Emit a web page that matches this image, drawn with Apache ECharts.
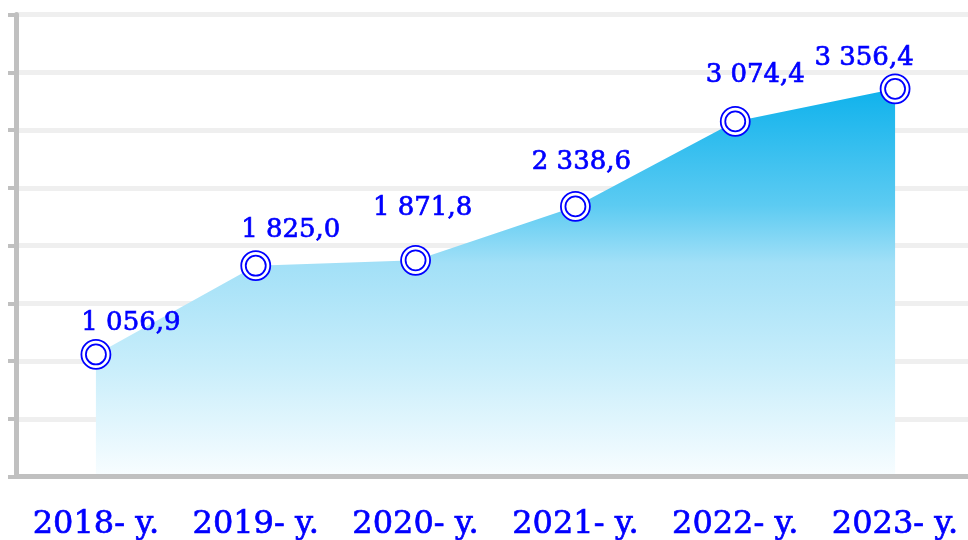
<!DOCTYPE html>
<html>
<head>
<meta charset="utf-8">
<script src="https://cdn.jsdelivr.net/npm/echarts@6/dist/echarts.min.js"></script>
<style>
html,body{margin:0;padding:0;background:#fff;overflow:hidden;width:968px;height:540px;}
#c{width:975px;height:540px;}
</style>
</head>
<body>
<div id="c"></div>
<script>
var categories = ['2018- y.', '2019- y.', '2020- y.', '2021- y.', '2022- y.', '2023- y.'];
var values = [1056.9, 1825.0, 1871.8, 2338.6, 3074.4, 3356.4];
var yMin = 0, yMax = 4000, yStep = 500;
// label offsets (styling only), relative to each point
var labelOffsets = [[35, -31], [35, -35], [7, -52], [6, -44], [20, -46], [-31, -31]];

function fmt(v) {
  var s = v.toFixed(1).split('.');
  var intPart = s[0].replace(/\B(?=(\d{3})+(?!\d))/g, ' ');
  return intPart + ',' + s[1];
}

var blue = '#0000ff';
var font = '"DejaVu Serif", serif';

var outerData = values.map(function (v, i) {
  return {
    value: v,
    label: {
      show: true,
      position: 'inside',
      offset: labelOffsets[i],
      formatter: function (p) { return fmt(p.value); },
      color: blue,
      fontSize: 26,
      fontFamily: font,
      textBorderColor: blue,
      textBorderWidth: 0.7
    }
  };
});

var chart = echarts.init(document.getElementById('c'));
chart.setOption({
  animation: false,
  grid: { left: 16, right: 0, top: 14.5, bottom: 63.5, containLabel: false, outerBoundsMode: 'none' },
  xAxis: {
    type: 'category',
    data: categories,
    boundaryGap: true,
    z: 5,
    axisLine: { show: true, lineStyle: { color: '#c0c0c0', width: 5 } },
    axisTick: { show: false },
    axisLabel: { interval: 0, color: blue, fontSize: 32, fontFamily: font, margin: 32, textBorderColor: blue, textBorderWidth: 0.7 },
    splitLine: { show: false }
  },
  yAxis: {
    type: 'value',
    min: yMin, max: yMax, interval: yStep,
    z: 0,
    axisLine: { show: true, lineStyle: { color: '#c0c0c0', width: 5 } },
    axisTick: { show: true, length: 8, lineStyle: { color: '#c0c0c0', width: 4 } },
    axisLabel: { show: false },
    splitLine: { show: true, lineStyle: { color: '#efefef', width: 5 } }
  },
  series: [
    {
      type: 'line',
      data: values,
      symbol: 'none',
      lineStyle: { width: 0, opacity: 0 },
      areaStyle: {
        opacity: 1,
        color: new echarts.graphic.LinearGradient(0, 0, 0, 1, [
          { offset: 0, color: '#0fb2ec' },
          { offset: 0.3, color: '#5ccbf2' },
          { offset: 0.45, color: '#a2e0f7' },
          { offset: 0.72, color: '#c9eefb' },
          { offset: 1, color: '#f8fdff' }
        ])
      },
      z: 2
    },
    {
      type: 'line',
      data: outerData,
      symbol: 'circle',
      symbolSize: 29,
      showAllSymbol: true,
      lineStyle: { width: 0, opacity: 0 },
      itemStyle: { color: '#ffffff', borderColor: blue, borderWidth: 1.8 },
      z: 6
    },
    {
      type: 'line',
      data: values,
      symbol: 'circle',
      symbolSize: 20,
      showAllSymbol: true,
      lineStyle: { width: 0, opacity: 0 },
      itemStyle: { color: 'rgba(255,255,255,0)', borderColor: blue, borderWidth: 1.8 },
      z: 7
    }
  ]
});
</script>
</body>
</html>
